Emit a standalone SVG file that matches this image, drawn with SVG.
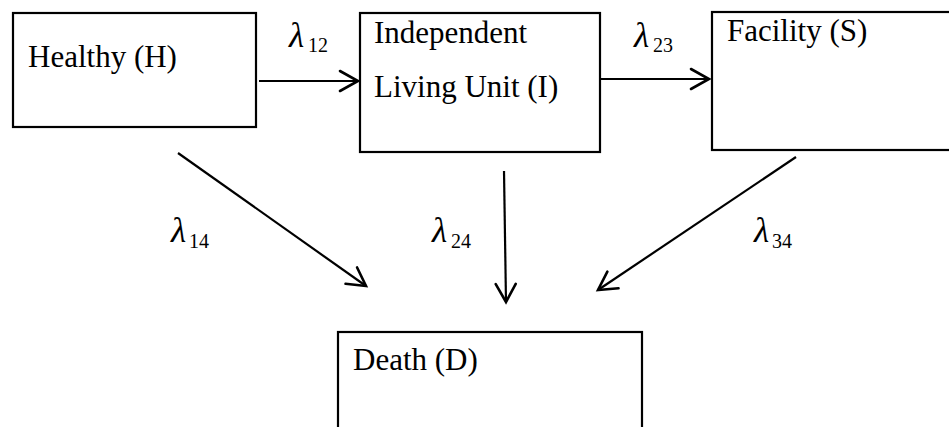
<svg xmlns="http://www.w3.org/2000/svg" width="949" height="427" viewBox="0 0 949 427">
<style>
.box{fill:#fff;stroke:#000;stroke-width:2.2}
.lbl{font-family:"Liberation Serif","Times New Roman",serif;font-size:31px;fill:#000}
.lam{font-family:"Liberation Serif","Times New Roman",serif;font-size:35px;font-style:italic;fill:#000}
.sub{font-family:"Liberation Serif","Times New Roman",serif;font-size:20px;fill:#000}
.edge{fill:none;stroke:#000;stroke-width:2.2;marker-end:url(#arr)}
</style>
<defs>
<marker id="arr" markerUnits="userSpaceOnUse" viewBox="-21 -13 24 26" markerWidth="24" markerHeight="26" refX="0" refY="0" orient="auto">
<path d="M-18,-10 L0,0 L-18,10" fill="none" stroke="#000" stroke-width="2.6" stroke-linecap="round" stroke-linejoin="miter"/>
</marker>
</defs>
<g id="node-H">
<rect class="box" x="13" y="13" width="243" height="114"/>
<text class="lbl" x="28" y="67">Healthy (H)</text>
</g>
<g id="node-I">
<rect class="box" x="360" y="13" width="240" height="139"/>
<text class="lbl" x="374" y="43">Independent</text>
<text class="lbl" x="374" y="97">Living Unit (I)</text>
</g>
<g id="node-S">
<rect class="box" x="712" y="12" width="260" height="138"/>
<text class="lbl" x="727" y="41">Facility (S)</text>
</g>
<g id="node-D">
<rect class="box" x="338" y="332" width="304" height="130"/>
<text class="lbl" x="353" y="370">Death (D)</text>
</g>
<g id="connectors">
<line class="edge" x1="259" y1="81" x2="358" y2="81"/>
<line class="edge" x1="600" y1="79" x2="709" y2="79"/>
<line class="edge" x1="178" y1="153" x2="366" y2="286"/>
<line class="edge" x1="504" y1="171" x2="506" y2="302"/>
<line class="edge" x1="796" y1="157" x2="598" y2="290"/>
</g>
<g id="labels">
<text x="289" y="47"><tspan class="lam">λ</tspan><tspan class="sub" x="308" y="52">12</tspan></text>
<text x="634" y="47"><tspan class="lam">λ</tspan><tspan class="sub" x="653" y="52">23</tspan></text>
<text x="171" y="242"><tspan class="lam">λ</tspan><tspan class="sub" x="189" y="248">14</tspan></text>
<text x="432" y="242"><tspan class="lam">λ</tspan><tspan class="sub" x="451" y="248">24</tspan></text>
<text x="754" y="242"><tspan class="lam">λ</tspan><tspan class="sub" x="772" y="248">34</tspan></text>
</g>
</svg>
